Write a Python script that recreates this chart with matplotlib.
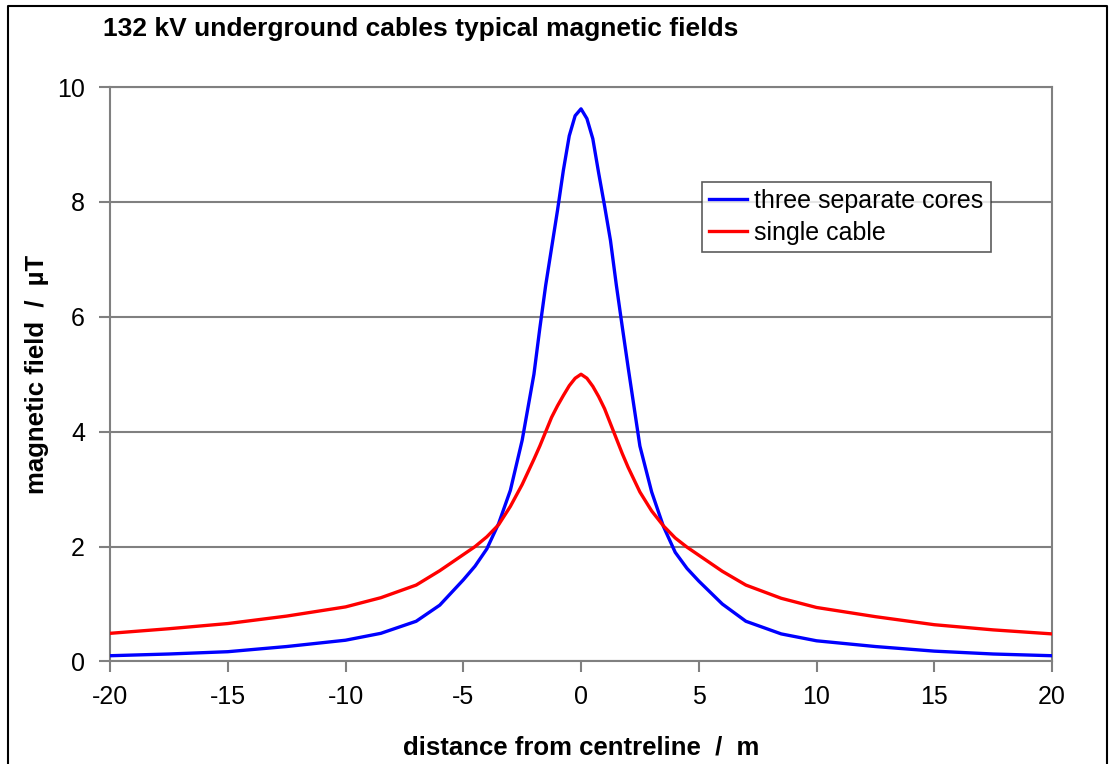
import matplotlib
matplotlib.use("Agg")
import matplotlib.pyplot as plt
from matplotlib.lines import Line2D

plt.rcParams['font.family'] = ['Liberation Sans', 'DejaVu Sans']
plt.rcParams['axes.unicode_minus'] = False

# distance from centreline (m)
dist = [-20, -17.5, -15, -12.5, -10, -8.5, -7, -6, -5, -4.5, -4, -3.5, -3, -2.5,
        -2, -1.75, -1.5, -1.25, -1, -0.75, -0.5, -0.25, 0, 0.25, 0.5, 0.75, 1,
        1.25, 1.5, 1.75, 2, 2.5, 3, 3.5, 4, 4.5, 5, 6, 7, 8.5, 10, 12.5, 15,
        17.5, 20]

# magnetic field (uT), three separate cores
three_cores = [0.10, 0.13, 0.17, 0.26, 0.37, 0.49, 0.70, 0.98, 1.42, 1.66, 1.96,
               2.40, 2.98, 3.85, 5.00, 5.80, 6.55, 7.20, 7.85, 8.55, 9.15, 9.50,
               9.62, 9.45, 9.10, 8.50, 7.93, 7.33, 6.55, 5.83, 5.12, 3.75, 2.95,
               2.35, 1.90, 1.62, 1.40, 1.00, 0.70, 0.48, 0.36, 0.26, 0.18, 0.13,
               0.10]

# magnetic field (uT), single cable
single_cable = [0.49, 0.57, 0.66, 0.79, 0.95, 1.11, 1.33, 1.58, 1.86, 2.00, 2.17,
                2.38, 2.70, 3.08, 3.52, 3.75, 4.00, 4.25, 4.45, 4.63, 4.80, 4.93,
                5.00, 4.93, 4.79, 4.61, 4.40, 4.14, 3.88, 3.62, 3.38, 2.95, 2.62,
                2.36, 2.15, 1.99, 1.85, 1.57, 1.33, 1.10, 0.94, 0.78, 0.64, 0.55,
                0.48]

series_names = ['three separate cores', 'single cable']

fig = plt.figure(figsize=(11.15, 7.64), dpi=100)
ax = fig.add_axes([0.0987, 0.1342, 0.9435 - 0.0987, 0.8861 - 0.1342])

grey = '#808080'
ax.plot(dist, three_cores, color='#0000FF', lw=2.4, label=series_names[0], zorder=3)
ax.plot(dist, single_cable, color='#FF0000', lw=2.4, label=series_names[1], zorder=3)

ax.set_xlim(-20, 20)
ax.set_ylim(0, 10)
ax.set_xticks(range(-20, 21, 5))
ax.set_yticks(range(0, 11, 2))
ax.yaxis.grid(True, color=grey, lw=1.5)
ax.set_axisbelow(True)
for s in ax.spines.values():
    s.set_color(grey)
    s.set_linewidth(1.5)
ax.tick_params(direction='out', length=8, width=1.5, color=grey, labelsize=18)
ax.tick_params(axis='y', pad=10)
ax.tick_params(axis='x', pad=9)

ax.set_xlabel('distance from centreline  /  m', fontsize=18.5, fontweight='bold', labelpad=19)
ax.set_ylabel('magnetic field  /  µT', fontsize=18.5, fontweight='bold', labelpad=6)

fig.text(0.0924, 0.962, '132 kV underground cables typical magnetic fields',
         fontsize=19, fontweight='bold', va='center', ha='left')

leg = ax.legend(loc='upper left', bbox_to_anchor=(0.6293, 0.7622),
                bbox_transform=fig.transFigure, fontsize=18, frameon=True,
                fancybox=False, borderaxespad=0, handlelength=1.5,
                handletextpad=0.3, borderpad=0.3, labelspacing=0.3)
leg.get_frame().set_edgecolor('#333333')
leg.get_frame().set_linewidth(1.2)

# outer chart border
fx = [8 / 1115, 8 / 1115, 1107 / 1115, 1107 / 1115]
fy = [0, 1 - 6 / 764, 1 - 6 / 764, 0]
fig.add_artist(Line2D(fx, fy, transform=fig.transFigure, color='black', lw=1.5))

fig.savefig('out.png', dpi=100)
